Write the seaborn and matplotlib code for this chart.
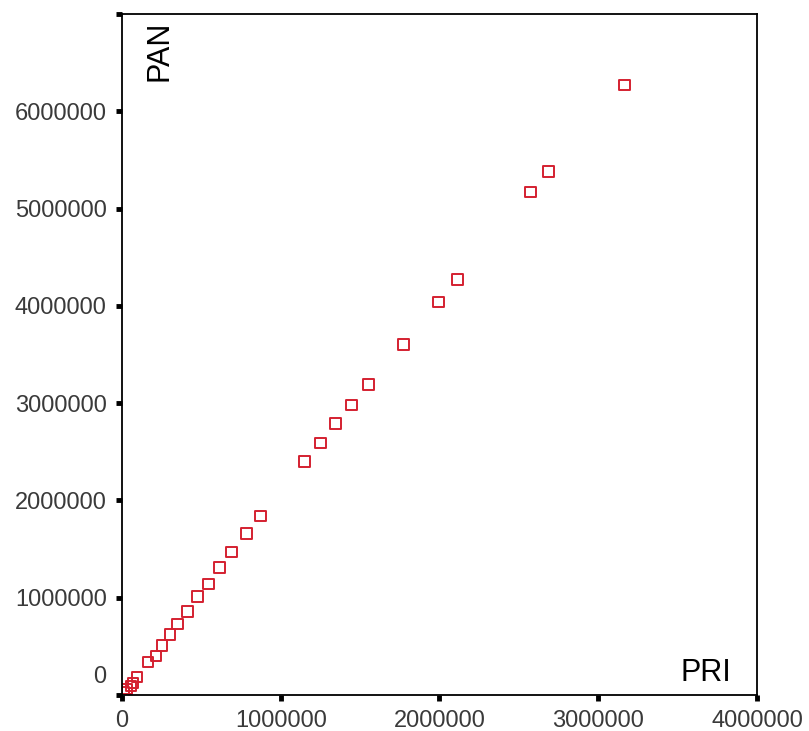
import matplotlib
matplotlib.use("Agg")
import matplotlib.pyplot as plt
import matplotlib.transforms as mtransforms
import seaborn as sns
import pandas as pd

pri = [3.164e6, 2.686e6, 2.572e6, 2.113e6, 1.994e6, 1.774e6, 1.553e6, 1.447e6,
       1.346e6, 1.252e6, 1.151e6, 0.874e6, 0.786e6, 0.692e6, 0.616e6, 0.547e6,
       0.478e6, 0.415e6, 0.352e6, 0.302e6, 0.252e6, 0.214e6, 0.164e6, 0.094e6,
       0.069e6, 0.057e6, 0.031e6, 0.013e6]
pan = [6.27e6, 5.38e6, 5.17e6, 4.27e6, 4.04e6, 3.60e6, 3.19e6, 2.98e6,
       2.79e6, 2.59e6, 2.40e6, 1.84e6, 1.66e6, 1.47e6, 1.31e6, 1.14e6,
       1.01e6, 0.86e6, 0.73e6, 0.62e6, 0.51e6, 0.40e6, 0.34e6, 0.185e6,
       0.123e6, 0.093e6, 0.062e6, 0.031e6]
xticks = [0, 1000000, 2000000, 3000000, 4000000]
yticks = [0, 1000000, 2000000, 3000000, 4000000, 5000000, 6000000, 7000000]
ytick_labels = ["0", "1000000", "2000000", "3000000", "4000000", "5000000", "6000000", ""]

df = pd.DataFrame({"PRI": pri, "PAN": pan})

sns.set_style("white")
plt.rcParams['font.family'] = ['Liberation Sans', 'DejaVu Sans']

fig = plt.figure(figsize=(8.09, 7.31), dpi=100)
ax = fig.add_axes([0.1508, 0.0492, 0.7849, 0.9318])

sns.scatterplot(data=df, x="PRI", y="PAN", ax=ax, marker="s", s=60,
                facecolor="none", edgecolor="#d42030", linewidth=1.4, legend=False)

ax.set_xlim(0, 4000000)
ax.set_ylim(0, 7000000)
ax.set_xticks(xticks)
ax.set_xticklabels([str(t) for t in xticks])
ax.set_yticks(yticks)
ax.set_yticklabels(ytick_labels)
ax.tick_params(axis="both", which="major", bottom=True, left=True, top=False, right=False,
               direction="out", length=4, width=3.5, color="black",
               labelsize=17, labelcolor="#3a3a3a", pad=7)
# lift the y "0" label above the x tick labels
lab0 = ax.get_yticklabels()[0]
lab0.set_transform(lab0.get_transform() + mtransforms.ScaledTranslation(0, 15 / 72, fig.dpi_scale_trans))

for sp in ax.spines.values():
    sp.set_color("black")
    sp.set_linewidth(1.3)
ax.set_xlabel("")
ax.set_ylabel("")
ax.text(0.035, 0.99, "PAN", transform=ax.transAxes, rotation=90, ha="left", va="top",
        fontsize=22, color="black")
ax.text(0.96, 0.01, "PRI", transform=ax.transAxes, ha="right", va="bottom",
        fontsize=22, color="black")

fig.savefig("out.png", dpi=100)
